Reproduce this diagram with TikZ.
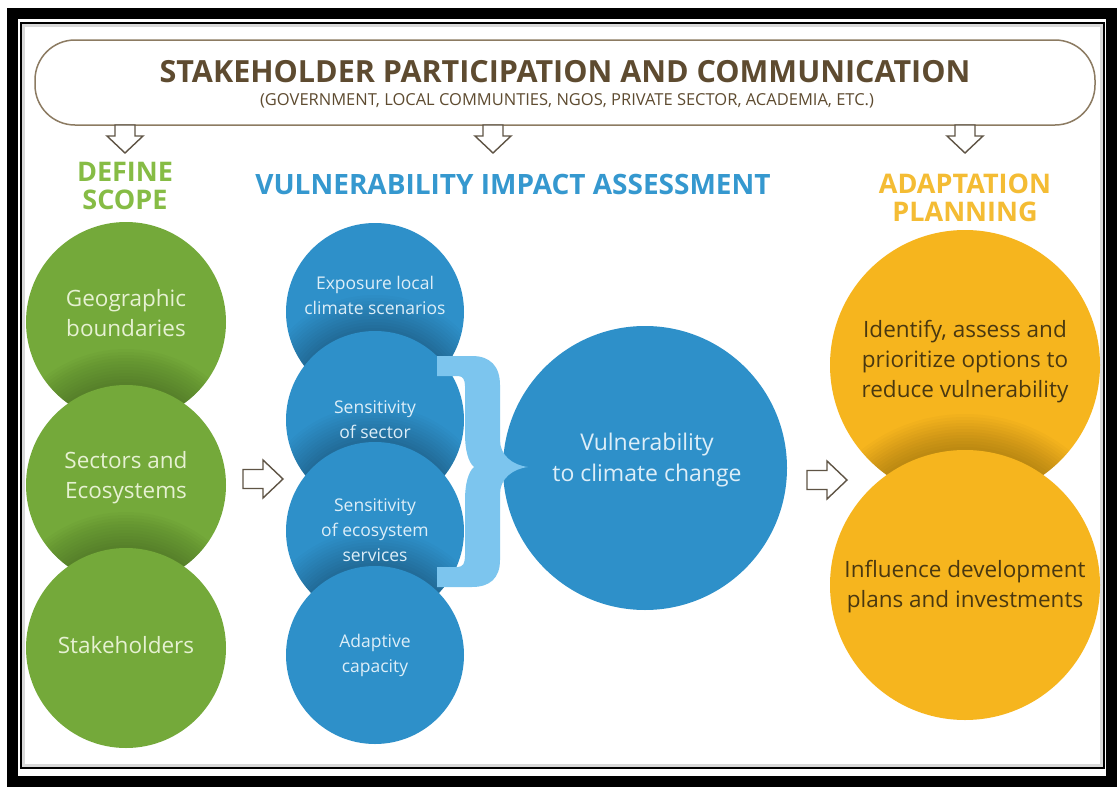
\documentclass[tikz,border=0pt]{standalone}
\usepackage{fontspec}
\setmainfont{Open Sans}
\usetikzlibrary{calc}
\definecolor{titlebrown}{HTML}{5E4B30}
\definecolor{framebrown}{HTML}{8C7B62}
\definecolor{arrowgray}{HTML}{5F5445}
\definecolor{leafgreen}{HTML}{74A93A}
\definecolor{headgreen}{HTML}{86BC45}
\definecolor{textgreen}{HTML}{E6F1D2}
\definecolor{seablue}{HTML}{2E90C9}
\definecolor{headblue}{HTML}{3598CF}
\definecolor{textblue}{HTML}{DDEEF8}
\definecolor{braceblue}{HTML}{7CC5EE}
\definecolor{sunyellow}{HTML}{F6B51E}
\definecolor{headyellow}{HTML}{F4BC34}
\definecolor{textbrown}{HTML}{4A3810}
\newcommand{\castshadow}[3]{%
  \begin{scope}
    \clip #1 circle (#3);
    \foreach \k in {0,...,11}{\fill[black, opacity=0.019] ($#2+(0,-3)$) circle ({#3+3*\k});}
  \end{scope}}
\begin{document}
\begin{tikzpicture}[x=1pt,y=-1pt,
  greenball/.style={circle, fill=leafgreen, minimum size=200pt, inner sep=0pt},
  blueball/.style={circle, fill=seablue, minimum size=178pt, inner sep=0pt},
  bigball/.style={circle, fill=seablue, minimum size=284pt, inner sep=0pt},
  yellowball/.style={circle, fill=sunyellow, minimum size=270pt, inner sep=0pt},
  greentext/.style={text=textgreen, align=center, font=\fontsize{22.5}{30}\selectfont},
  bluetext/.style={text=textblue, align=center, font=\fontsize{17.5}{25}\selectfont},
  bigtext/.style={text=textblue, align=center, font=\fontsize{23}{31}\selectfont},
  yellowtext/.style={text=textbrown, align=center, font=\fontsize{22.5}{30}\selectfont},
  heading/.style={align=center, font=\bfseries\fontsize{27}{28}\selectfont},
  blockline/.style={draw=arrowgray, fill=white, line width=1.4pt, line join=miter},
  downblock/.pic={\path[blockline] (-10,-14) -- (10,-14) -- (10,-3) -- (18,-3) -- (0,14) -- (-18,-3) -- (-10,-3) -- cycle;},
  rightblock/.pic={\path[blockline] (-20,-9.5) -- (0,-9.5) -- (0,-19) -- (20,0) -- (0,19) -- (0,9.5) -- (-20,9.5) -- cycle;},
]
% frame
\fill[white] (0,0) rectangle (1117,786);
\draw[black, line width=11] (12.5,13.5) rectangle (1111.5,781.5);
\draw[black, line width=1.6] (21,23) rectangle (1104,768);
\draw[black!15, line width=3] (23.5,25.5) rectangle (1101.5,765.5);

% banner
\node[draw=framebrown, fill=white, line width=1.5pt, rounded corners=40pt, minimum width=1060pt, minimum height=85pt] (banner) at (565,82.5) {};
\node[text=titlebrown, font=\bfseries\fontsize{30.5}{34}\selectfont] (title) at (565,72) {STAKEHOLDER PARTICIPATION AND COMMUNICATION};
\node[text=titlebrown, font=\fontsize{16.5}{18}\selectfont] (subtitle) at (567,101) {(GOVERNMENT, LOCAL COMMUNTIES, NGOS, PRIVATE SECTOR, ACADEMIA, ETC.)};

% down arrows
\pic (d1) at (125,139) {downblock};
\pic (d2) at (493,139) {downblock};
\pic (d3) at (965,139) {downblock};

% headings
\node[heading, text=headgreen] (hscope) at (125,186) {DEFINE\\SCOPE};
\node[heading, text=headblue, font=\bfseries\fontsize{28}{28}\selectfont] (hvia) at (513,184) {VULNERABILITY IMPACT ASSESSMENT};
\node[heading, text=headyellow] (hplan) at (965,198) {ADAPTATION\\PLANNING};

% green column
\node[greenball] (g1) at (126,322) {};
\castshadow{(126,322)}{(126,485)}{100}
\node[greenball] (g2) at (126,485) {};
\castshadow{(126,485)}{(126,648)}{100}
\node[greenball] (g3) at (126,648) {};
\node[greentext] (g1t) at (126,313) {Geographic\\boundaries};
\node[greentext] (g2t) at (126,478) {Sectors and\\Ecosystems};
\node[greentext] (g3t) at (126,645) {Stakeholders};

% arrows between columns
\pic (r1) at (263,479) {rightblock};
\pic (r2) at (827,480) {rightblock};

% blue column
\node[blueball] (b1) at (375,312) {};
\castshadow{(375,312)}{(375,420)}{89}
\node[blueball] (b2) at (375,420) {};
\castshadow{(375,420)}{(375,531)}{89}
\node[blueball] (b3) at (375,531) {};
\castshadow{(375,531)}{(375,655)}{89}
\node[blueball] (b4) at (375,655) {};
\node[bluetext] (b1t) at (375,295) {Exposure local\\climate scenarios};
\node[bluetext] (b2t) at (375,420) {Sensitivity\\of sector};
\node[bluetext] (b3t) at (375,530) {Sensitivity\\of ecosystem\\services};
\node[bluetext] (b4t) at (375,655) {Adaptive\\capacity};

% big circle
\node[bigball] (vul) at (645,468) {};
\node[bigtext] (vult) at (647,460) {Vulnerability\\to climate change};

% brace
\fill[braceblue] (437,356) -- (472,356) .. controls (490,356) and (500,366) .. (500,385) -- (500,440)
  .. controls (500,455) and (512,465) .. (528,467) .. controls (512,469) and (500,479) .. (500,494)
  -- (500,560) .. controls (500,578) and (490,587) .. (472,587) -- (437,587) -- (437,567) -- (458,567)
  .. controls (463,567) and (465,563) .. (465,556) -- (465,500)
  .. controls (465,485) and (468,472) .. (474,467) .. controls (468,462) and (465,449) .. (465,434)
  -- (465,386) .. controls (465,380) and (463,376) .. (458,376) -- (437,376) -- cycle;

% yellow column
\node[yellowball] (y1) at (965,365) {};
\castshadow{(965,365)}{(965,585)}{135}
\node[yellowball] (y2) at (965,585) {};
\node[yellowtext] (y1t) at (965,362) {Identify, assess and\\prioritize options to\\reduce vulnerability};
\node[yellowtext] (y2t) at (965,587) {Influence development\\plans and investments};
\end{tikzpicture}
\end{document}
